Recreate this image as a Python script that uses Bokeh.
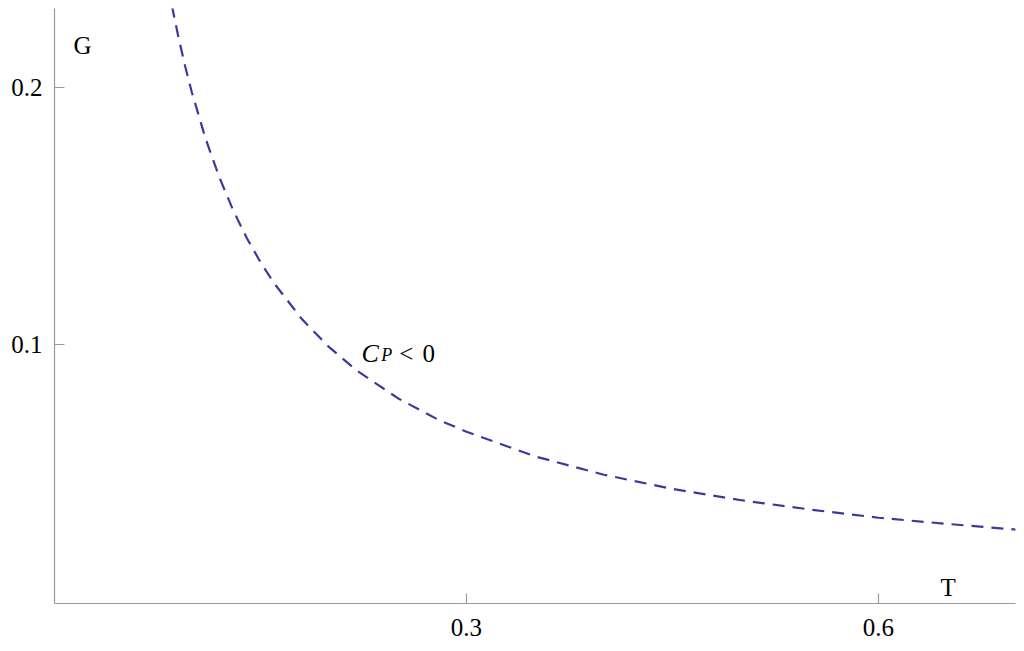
from bokeh.plotting import figure
from bokeh.models import FixedTicker, ColumnDataSource
from bokeh.core.properties import value
from bokeh.embed import file_html
from bokeh.resources import INLINE

# Data
T = [0.0855, 0.09, 0.095, 0.10, 0.11, 0.12, 0.13, 0.14, 0.15, 0.16, 0.18, 0.20,
     0.22, 0.25, 0.28, 0.30, 0.35, 0.40, 0.45, 0.50, 0.55, 0.60, 0.65, 0.70]
G = [0.2316, 0.2200, 0.2084, 0.1980, 0.1800, 0.1650, 0.1523, 0.1414, 0.1320,
     0.1238, 0.1100, 0.0990, 0.0900, 0.0792, 0.0707, 0.0662, 0.0566, 0.0495,
     0.0440, 0.0396, 0.0360, 0.0328, 0.0304, 0.0282]
x_ticks = [0.3, 0.6]
y_ticks = [0.1, 0.2]

SERIF = "Liberation Serif"

p = figure(width=1016, height=643, output_backend="svg", toolbar_location=None,
           x_range=(0.0, 0.6998), y_range=(-0.0005, 0.2305),
           min_border_left=54, min_border_right=1, min_border_top=8,
           min_border_bottom=40)
p.outline_line_color = None
p.xgrid.visible = False
p.ygrid.visible = False
p.background_fill_color = "white"
p.border_fill_color = "white"

for ax in (p.xaxis[0], p.yaxis[0]):
    ax.axis_line_color = "#9a9a9a"
    ax.axis_line_width = 1.2
    ax.major_tick_line_color = "#9a9a9a"
    ax.major_tick_line_width = 1.2
    ax.major_tick_in = 10
    ax.major_tick_out = 0
    ax.minor_tick_line_color = None
    ax.major_label_text_font = SERIF
    ax.major_label_text_font_size = "25px"
    ax.major_label_text_color = "black"

p.xaxis[0].major_label_standoff = 15
p.yaxis[0].major_label_standoff = 12

p.xaxis[0].ticker = FixedTicker(ticks=x_ticks)
p.yaxis[0].ticker = FixedTicker(ticks=y_ticks)
p.xaxis[0].major_label_overrides = {0.3: "0.3", 0.6: "0.6"}
p.yaxis[0].major_label_overrides = {0.1: "0.1", 0.2: "0.2"}

src = ColumnDataSource(dict(T=T, G=G))
p.line("T", "G", source=src, line_color="#3a3a9e", line_width=2.2,
       line_dash="12 8")

# Axis labels
p.text(x=[0.0138], y=[0.2162], text=["G"], text_font=value(SERIF),
       text_font_size="25px", text_baseline="alphabetic", text_color="black")
p.text(x=[0.6452], y=[0.0058], text=["T"], text_font=value(SERIF),
       text_font_size="25px", text_baseline="alphabetic", text_color="black")

# C_P < 0 annotation
p.text(x=[0.2236], y=[0.0966], text=["C"], text_font=value(SERIF),
       text_font_size="26px", text_font_style="italic",
       text_baseline="alphabetic", text_color="black")
p.text(x=[0.2380], y=[0.0958], text=["P"], text_font=value(SERIF),
       text_font_size="18px", text_font_style="italic",
       text_baseline="alphabetic", text_color="black")
p.text(x=[0.2510], y=[0.0966], text=["<"], text_font=value(SERIF),
       text_font_size="25px", text_baseline="alphabetic", text_color="black")
p.text(x=[0.2680], y=[0.0966], text=["0"], text_font=value(SERIF),
       text_font_size="25px", text_baseline="alphabetic", text_color="black")

open("out.html", "w").write(file_html(p, INLINE))
